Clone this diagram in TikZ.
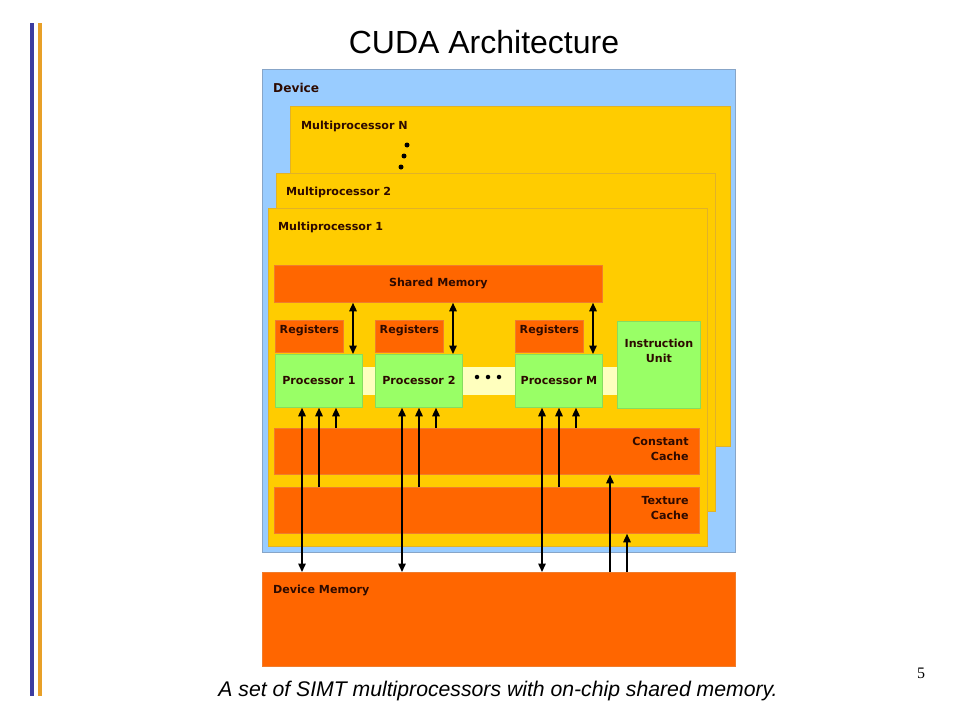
\documentclass[tikz,border=0pt]{standalone}
\usepackage{fontspec}
\setmainfont{Liberation Sans}
\newfontfamily\boxfont{DejaVu Sans}
\newfontfamily\numfont{Liberation Serif}
\usetikzlibrary{positioning,calc}
\usetikzlibrary{arrows.meta}
\definecolor{DevBlue}{RGB}{153,204,255}
\definecolor{DevEdge}{RGB}{135,165,200}
\definecolor{MpGold}{RGB}{255,204,0}
\definecolor{MpEdge}{RGB}{225,178,40}
\definecolor{MemOrange}{RGB}{255,102,0}
\definecolor{MemEdge}{RGB}{240,125,45}
\definecolor{ProcGreen}{RGB}{153,255,102}
\definecolor{ProcEdge}{RGB}{135,220,95}
\definecolor{BandYellow}{RGB}{255,255,190}
\definecolor{TxtDark}{RGB}{45,10,0}
\definecolor{BarBlue}{RGB}{60,60,160}
\definecolor{BarGold}{RGB}{232,160,40}
\tikzset{
  blk/.style={rectangle,anchor=north west,inner sep=0pt,line width=0.8pt},
  dev/.style={blk,draw=DevEdge,fill=DevBlue},
  mp/.style={blk,draw=MpEdge,fill=MpGold},
  mem/.style={blk,draw=MemEdge,fill=MemOrange},
  proc/.style={blk,draw=ProcEdge,fill=ProcGreen},
  lbl/.style={inner sep=0pt,text=TxtDark,font=\boxfont\bfseries\fontsize{11.1}{15}\selectfont},
  dot/.style={circle,fill=black,inner sep=0pt,minimum size=5pt},
  tip/.style={-{Triangle[length=8.5pt,width=7.5pt]},line width=1.5pt},
  dbl/.style={{Triangle[length=8.5pt,width=7.5pt]}-{Triangle[length=8.5pt,width=7.5pt]},line width=1.5pt},
}

\begin{document}
\begin{tikzpicture}[x=1pt,y=-1pt]
\useasboundingbox (0,0) rectangle (960,720);
% side bars
\fill[BarBlue] (30,23) rectangle (34,696);
\fill[BarGold] (38,23) rectangle (42,696);
\node[font=\fontsize{32}{36}\selectfont] (title) at (484,42) {CUDA Architecture};
% device and multiprocessors
\node[dev,minimum width=473pt,minimum height=483pt] (dev) at (262,69) {};
\node[lbl,font=\boxfont\bfseries\fontsize{12.2}{14}\selectfont,below right=14pt and 11pt of dev.north west] (devlbl) {Device};
\node[mp,minimum width=440pt,minimum height=340pt] (mpN) at (290,106) {};
\node[lbl,below right=15pt and 11pt of mpN.north west] (mpNlbl) {Multiprocessor N};
\node[dot] (d1) at (407,145) {};
\node[dot] (d2) at (404,156) {};
\node[dot] (d3) at (401,167) {};
\node[mp,minimum width=439pt,minimum height=338pt] (mp2) at (276,173) {};
\node[lbl,below right=14pt and 10pt of mp2.north west] (mp2lbl) {Multiprocessor 2};
\node[mp,minimum width=439pt,minimum height=338pt] (mp1) at (268,208) {};
\node[lbl,below right=14pt and 10pt of mp1.north west] (mp1lbl) {Multiprocessor 1};
% inside multiprocessor 1
\node[mem,minimum width=328pt,minimum height=37pt] (sm) at (274,265) {};
\node[lbl] at (sm.center) {Shared Memory};
\fill[BandYellow] (340,367) rectangle (617,395);
\foreach \n/\x/\t in {p1/275/1,p2/375/2,pm/515/M}{
  \node[mem,minimum width=68pt,minimum height=32pt] (r\n) at (\x,320) {};
  \node[lbl,below=5pt of r\n.north] {Registers};
  \node[proc,minimum width=87pt,minimum height=53pt] (\n) at (\x,354) {};
  \node[lbl] at (\n.center) {Processor \t};
}
\node[dot,minimum size=4.5pt] (e1) at (477,377) {};
\node[dot,minimum size=4.5pt] (e2) at (488,377) {};
\node[dot,minimum size=4.5pt] (e3) at (499,377) {};
\node[proc,minimum width=83pt,minimum height=87pt] (iu) at (617,321) {};
\node[lbl,align=center,below=18pt of iu.north] (iulbl) {Instruction\\Unit};
\node[mem,minimum width=425pt,minimum height=46pt] (cc) at (274,428) {};
\node[lbl,align=right,below left=9pt and 11pt of cc.north east] (cclbl) {Constant\\Cache};
\node[mem,minimum width=425pt,minimum height=46pt] (tc) at (274,487) {};
\node[lbl,align=right,below left=9pt and 11pt of tc.north east] (tclbl) {Texture\\Cache};
% device memory
\node[mem,minimum width=473pt,minimum height=94pt] (dm) at (262,572) {};
\node[lbl,below right=13pt and 11pt of dm.north west] (dmlbl) {Device Memory};
% connections
\foreach \n in {p1,p2,pm}{
  \draw[dbl] ([xshift=78pt]\n.north west) -- ([xshift=78pt]\n.north west |- sm.south);
  \draw[dbl] ([xshift=27pt]\n.south west |- dm.north) -- ([xshift=27pt]\n.south west);
  \draw[tip] ([xshift=44pt]\n.south west |- tc.north) -- ([xshift=44pt]\n.south west);
  \draw[tip] ([xshift=61pt]\n.south west |- cc.north) -- ([xshift=61pt]\n.south west);
}
\draw[tip] ([xshift=336pt]cc.south west |- dm.north) -- ([xshift=336pt]cc.south west);
\draw[tip] ([xshift=353pt]tc.south west |- dm.north) -- ([xshift=353pt]tc.south west);
% caption
\node[font=\itshape\fontsize{21.2}{24}\selectfont] (cap) at (498,691) {A set of SIMT multiprocessors with on-chip shared memory.};
\node[font=\numfont\fontsize{16}{18}\selectfont] (pg) at (921,673) {5};
\end{tikzpicture}
\end{document}
